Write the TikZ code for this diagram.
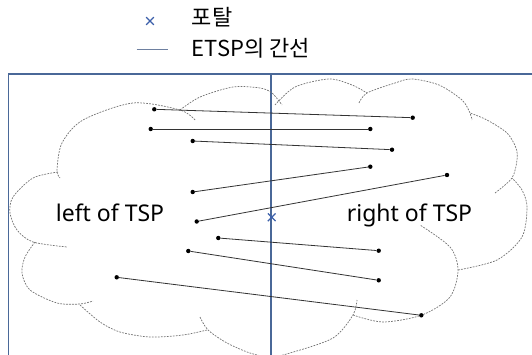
\documentclass[tikz,border=0pt]{standalone}
\usepackage{fontspec}
\setmainfont{Noto Sans}
\newfontfamily\kr{Noto Sans CJK KR}
\usetikzlibrary{shapes.misc}
\definecolor{frameblue}{RGB}{74,104,152}
\definecolor{portalblue}{RGB}{60,96,170}
\definecolor{keygray}{RGB}{110,128,160}
\tikzset{
 frameline/.style={frameblue,line width=1.3pt},
 cloudline/.style={black!55,line width=.7pt,dash pattern=on 1.8pt off 1.2pt},
 dot/.style={circle,fill=black,inner sep=0pt,minimum size=4.4pt},
 edge/.style={black!80,line width=.8pt},
 portal/.style={cross out,draw=portalblue,line width=1.2pt,inner sep=0pt,minimum size=6.5pt},
 label/.style={font=\fontsize{23}{26}\selectfont,inner sep=0pt,anchor=base},
 keytext/.style={font=\kr\fontsize{22}{26}\selectfont,inner sep=0pt,anchor=base west}
}
\begin{document}
\begin{tikzpicture}[x=1pt,y=-1pt]
 \path[use as bounding box,clip] (0,0) rectangle (532,355);
 % legend
 \node[portal] (keyx) at (150,21) {};
 \node[keytext] (keyportal) at (191.7,26) {포탈};
 \coordinate (keya) at (136.7,49); \coordinate (keyb) at (168.3,49);
 \draw[keygray,line width=.8pt] (keya)--(keyb);
 \node[keytext] (keyedge) at (191.7,56.7) {ETSP의 간선};
 % frame and split line
 \draw[frameline] (8.3,74) rectangle (536,362);
 \coordinate (splittop) at (271,74); \coordinate (splitbot) at (271,362);
 \draw[frameline] (splittop)--(splitbot);
 % cloud, one bump at a time
 \draw[cloudline,smooth] plot coordinates {(195,120)(180,110)(133,103)(83,120)(62,143)(57,170)(60,178)};
 \draw[cloudline,smooth] plot coordinates {(58,172)(33,178)(13,197)(10,213)(17,230)(33,242)(67,247)};
 \draw[cloudline,smooth] plot coordinates {(35,242)(25,257)(22,273)(30,290)(57,303)(80,304)(93,301)};
 \draw[cloudline,smooth] plot coordinates {(80,305)(100,322)(120,332)(150,337)(183,335)(207,330)};
 \draw[cloudline,smooth] plot coordinates {(200,317)(208,330)(227,343)(250,353)(270,357)(290,353)(333,338)(353,315)(357,300)};
 \draw[cloudline,smooth] plot coordinates {(353,315)(383,322)(422,315)(450,297)(458,270)(450,247)(420,225)};
 \draw[cloudline,smooth] plot coordinates {(458,270)(497,260)(522,237)(527,207)(522,190)(512,178)};
 \draw[cloudline,smooth] plot coordinates {(495,193)(512,178)(517,160)(516,148)(507,133)(487,120)(470,113)};
 \draw[cloudline,smooth] plot coordinates {(359,103)(367,93)(395,83)(412,79)(439,85)(462,100)(470,113)(472,120)};
 \draw[cloudline,smooth] plot coordinates {(275,105)(295,87)(329,79)(352,85)(367,93)};
 \draw[cloudline,smooth] plot coordinates {(180,110)(200,97)(233,87)(260,88)(272,93)(282,105)};
 % ETSP edges across the split
 \foreach \n/\xa/\ya/\xb/\yb in {1/154.3/109.3/412.7/117.7,2/150.7/129/370.3/129,3/192.7/141/392/149.7,
   4/192.7/192/370.3/166.7,5/196.7/221.5/447/175,6/218.3/238/378.7/250.7,7/188.3/251/378.7/280.3,8/116.7/277.3/421.3/315.3}
  {\node[dot] (left\n) at (\xa,\ya) {}; \node[dot] (right\n) at (\xb,\yb) {};
   \draw[edge] (left\n)--(right\n);}
 \node[portal] (portal) at (271.7,217.3) {};
 \node[label] (lefttsp) at (110,221.7) {left of TSP};
 \node[label] (righttsp) at (409.5,221.7) {right of TSP};
\end{tikzpicture}
\end{document}
